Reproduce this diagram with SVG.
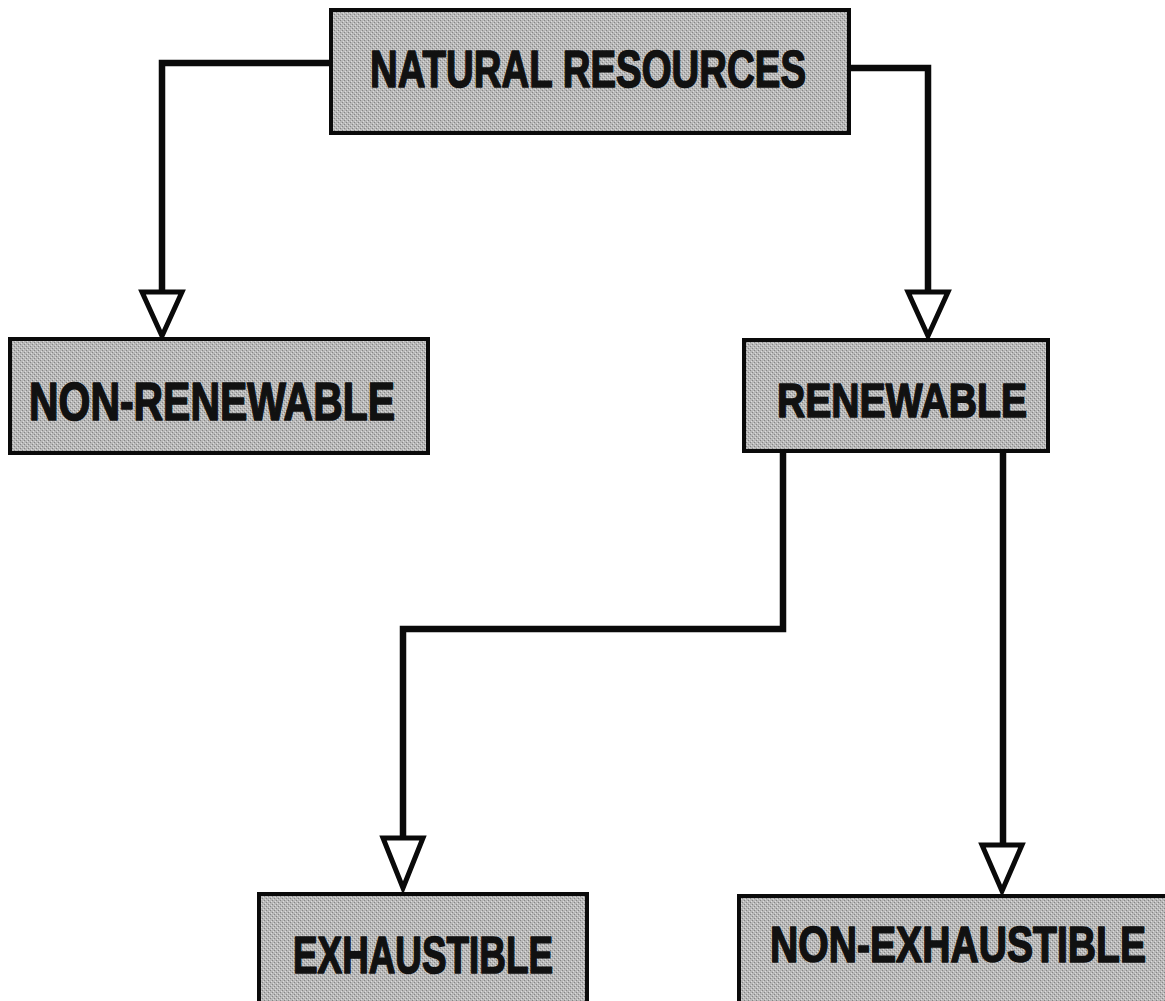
<svg xmlns="http://www.w3.org/2000/svg" width="1165" height="1001" viewBox="0 0 1165 1001">
  <defs>
    <pattern id="dither" width="4" height="4" patternUnits="userSpaceOnUse">
      <rect width="4" height="4" fill="#b8b8b8"/>
      <rect x="0" y="0" width="1" height="1" fill="#858585"/>
      <rect x="2" y="2" width="1" height="1" fill="#858585"/>
      <rect x="1" y="3" width="1" height="1" fill="#dcdcdc"/>
      <rect x="3" y="1" width="1" height="1" fill="#dcdcdc"/>
    </pattern>
  </defs>
  <style>
    .box { fill: url(#dither); stroke: #0a0a0a; stroke-width: 4; }
    .lbl { font-family: "Liberation Sans", Arial, sans-serif; font-weight: bold; fill: #111; stroke: #111; stroke-width: 1.6; stroke-linejoin: round; text-anchor: middle; }
    .wire { fill: none; stroke: #0a0a0a; stroke-width: 6.5; stroke-linejoin: miter; }
    .head { fill: #ffffff; stroke: #0a0a0a; stroke-width: 5; stroke-linejoin: miter; }
  </style>
  <rect width="1165" height="1001" fill="#ffffff"/>

  <g id="connectors">
    <path class="wire" d="M332 63 H162 V292"/>
    <polygon class="head" points="142,292 182,292 162,336"/>
    <path class="wire" d="M848 68 H928 V292"/>
    <polygon class="head" points="908,292 948,292 928,336"/>
    <path class="wire" d="M783 452 V629 H403 V838"/>
    <polygon class="head" points="383,838 423,838 403,888"/>
    <path class="wire" d="M1003 452 V845"/>
    <polygon class="head" points="982,845 1022,845 1002,891"/>
  </g>

  <g id="natural-resources">
    <rect class="box" x="331" y="10" width="518" height="123"/>
    <text class="lbl" x="588" y="87" font-size="52" textLength="436" lengthAdjust="spacingAndGlyphs">NATURAL RESOURCES</text>
  </g>

  <g id="non-renewable">
    <rect class="box" x="10" y="339" width="418" height="114"/>
    <text class="lbl" x="212" y="420" font-size="54" textLength="366" lengthAdjust="spacingAndGlyphs">NON-RENEWABLE</text>
  </g>

  <g id="renewable">
    <rect class="box" x="744" y="340" width="304" height="111"/>
    <text class="lbl" x="902" y="417" font-size="49" textLength="250" lengthAdjust="spacingAndGlyphs">RENEWABLE</text>
  </g>

  <g id="exhaustible">
    <rect class="box" x="259" y="894" width="328" height="120"/>
    <text class="lbl" x="423" y="973" font-size="52" textLength="260" lengthAdjust="spacingAndGlyphs">EXHAUSTIBLE</text>
  </g>

  <g id="non-exhaustible">
    <rect class="box" x="739" y="896" width="440" height="120"/>
    <text class="lbl" x="958" y="962" font-size="50" textLength="376" lengthAdjust="spacingAndGlyphs">NON-EXHAUSTIBLE</text>
  </g>
</svg>
